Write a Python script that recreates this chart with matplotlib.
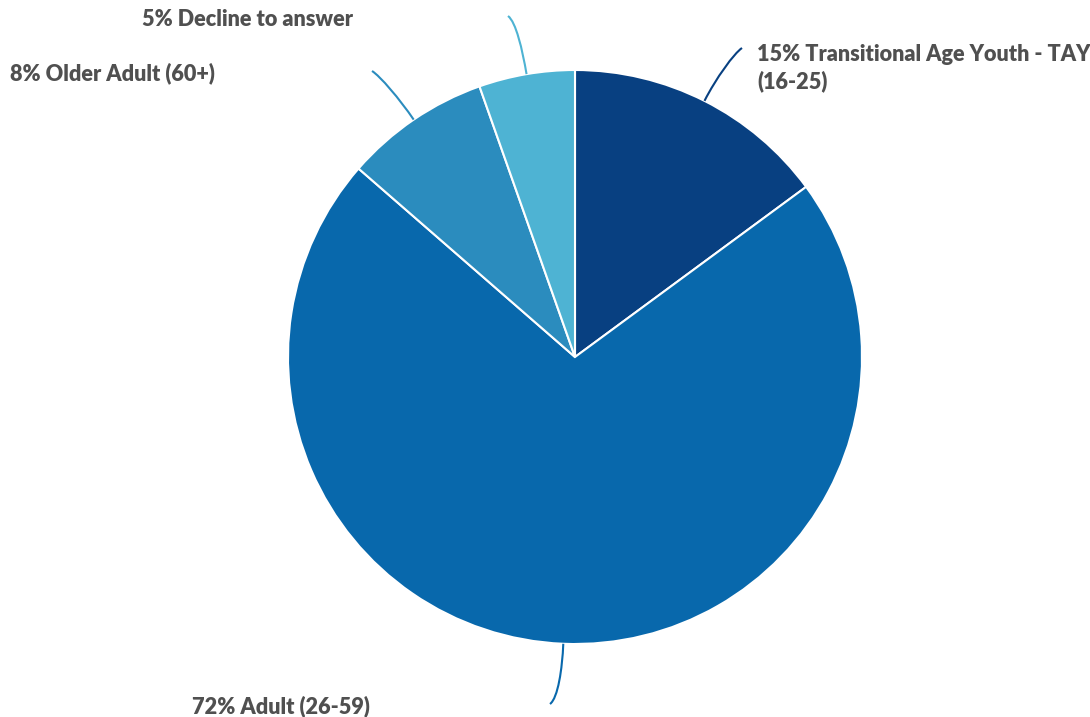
import numpy as np
import matplotlib.pyplot as plt
from matplotlib.path import Path
from matplotlib.patches import PathPatch

# データ (割合 %)
labels = ["15% Transitional Age Youth - TAY\n(16-25)", "72% Adult (26-59)",
          "8% Older Adult (60+)", "5% Decline to answer"]
shares = [14.9, 71.5, 8.2, 5.4]
colors = ["#084081", "#0868ac", "#2b8cbe", "#4eb3d3"]

# ラベルの位置 (ピクセル, 上が0) とリーダー線の終点
line_ends = [(742, 48), (550, 704), (372, 71), (508, 16)]
text_pos = [(757, 68.5), (370, 706), (215, 73), (353, 20)]
text_ha = ["left", "right", "right", "right"]

W, H = 1090, 717
cx, cy, r = 575, H - 357, 287

fig = plt.figure(figsize=(W / 100, H / 100), dpi=100)
ax = fig.add_axes([0, 0, 1, 1])

wedges, _ = ax.pie(shares, colors=colors, startangle=90, counterclock=False,
                   center=(cx, cy), radius=r,
                   wedgeprops=dict(edgecolor="white", linewidth=1.5))
ax.set_xlim(0, W)
ax.set_ylim(0, H)
ax.axis("off")

for w, col, end, tp, ha, lab in zip(wedges, colors, line_ends, text_pos, text_ha, labels):
    ang = np.deg2rad((w.theta1 + w.theta2) / 2)
    ux, uy = np.cos(ang), np.sin(ang)
    p0 = (cx + r * ux, cy + r * uy)
    p3 = (end[0], H - end[1])
    d = -1 if ha == "left" else 1
    p1 = (p0[0] + ux * 25, p0[1] + uy * 25)
    p2 = (p3[0] + d * 8, p3[1] - uy * 6)
    path = Path([p0, p1, p2, p3], [Path.MOVETO, Path.CURVE4, Path.CURVE4, Path.CURVE4])
    ax.add_patch(PathPatch(path, fill=False, edgecolor=col, linewidth=1.5))
    ax.text(tp[0], H - tp[1], lab, ha=ha, va="center", fontsize=15.6,
            fontweight="heavy", family="Lato", color="#505050", linespacing=1.3)

fig.savefig("out.png", dpi=100)
